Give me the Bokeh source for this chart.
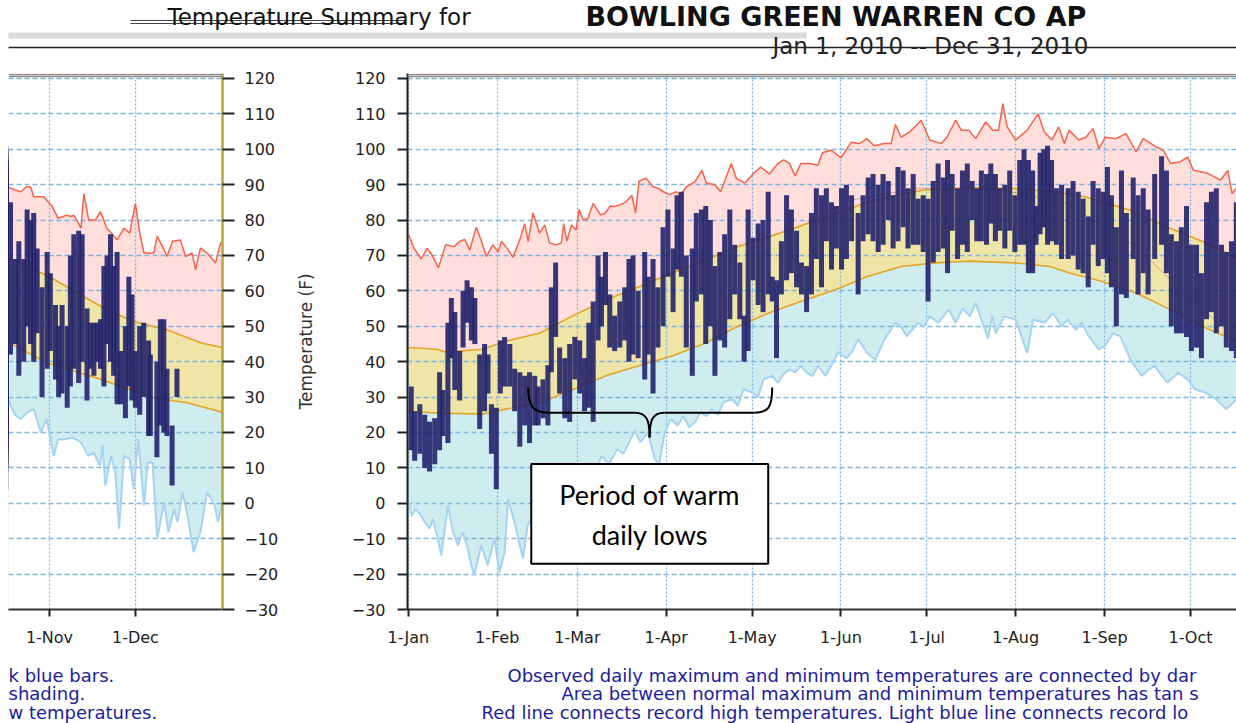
from bokeh.plotting import figure
from bokeh.layouts import column, row
from bokeh.models import Range1d, FixedTicker, Span
from bokeh.core.properties import value
from bokeh.embed import file_html
from bokeh.resources import INLINE

FONT = "DejaVu Sans"

# ---------------- data (day of year: 1-Jan = 0) ----------------
MONTH_TICK_DAYS = [0, 31, 59, 90, 120, 151, 181, 212, 243, 273, 304, 334]
MONTH_TICK_LABELS = ["1-Jan", "1-Feb", "1-Mar", "1-Apr", "1-May", "1-Jun",
                     "1-Jul", "1-Aug", "1-Sep", "1-Oct", "1-Nov", "1-Dec"]
TEMP_TICKS = [-30, -20, -10, 0, 10, 20, 30, 40, 50, 60, 70, 80, 90, 100, 110, 120]

RECORD_HIGH = [
    (0, 76), (2, 72), (4.5, 69), (6.5, 72), (8, 70.5), (10.5, 66.5), (13, 73), (16, 72.5), (18, 74),
    (19.7, 74.5), (21.4, 71.5), (23.7, 78), (25.5, 74), (27.2, 69.7), (29.5, 73), (31.3, 71), (32.5, 74),
    (34.5, 72), (36.5, 69.5), (38.9, 74.4), (40.6, 79), (41.8, 74), (43.5, 82), (45.8, 76.3), (47.6, 78.6),
    (49.3, 73.5), (51.5, 73), (53.4, 73.5), (54.2, 79), (55.3, 74), (56.9, 78.6), (58.6, 77.2), (59.6, 83),
    (61, 80), (62.7, 80.5), (64.5, 84.7), (67, 81.5), (68.5, 81.8), (70.5, 84), (72, 83.8), (75, 84.7),
    (76.5, 85.6), (78, 87), (79.3, 82), (80.5, 91), (83, 91.8), (85.4, 89.4), (87, 89), (89, 88),
    (91.2, 87.2), (93.5, 88), (95, 87), (97, 89.4), (100, 90.8), (102.5, 94), (104, 90.5), (107, 90),
    (109, 88), (112.7, 96), (114.5, 91.7), (117.5, 90.5), (120.5, 93.2), (123, 95), (126, 93), (129, 96),
    (131, 97), (133, 96), (135, 92.5), (137, 96), (140, 96), (143, 95.5), (144.5, 99), (147.6, 99.7),
    (151, 97.6), (154.6, 102), (157.5, 101.6), (160, 103), (162.6, 101), (166, 101.6), (168.5, 101.6),
    (170, 107), (172, 103.4), (175, 104.9), (179, 108.2), (182, 102.6), (186, 101.6), (188, 103.4),
    (191, 108.2), (193, 105.4), (195.6, 105.4), (198, 103), (201.5, 107.7), (204, 105.4), (206, 105.4),
    (207.5, 112.9), (209, 106.3), (212, 102.6), (216, 105.4), (219.8, 110), (222, 104.9), (224.6, 102.6),
    (227, 106.3), (229, 101.6), (230.6, 105.4), (234, 102.6), (236.5, 103.4), (239, 105.9), (241, 100.2),
    (243.3, 103.4), (247, 103), (250.5, 104.4), (254, 99.3), (256.5, 103), (261, 100.7), (263.5, 99.7),
    (266, 96), (269.5, 96.5), (272, 97.8), (274, 94.1), (279, 93.2), (283.5, 91.3), (286, 94), (287.5, 87.5),
    (289.3, 89.4), (290.5, 89), (292, 88.5), (294, 88), (296, 89.4), (297.4, 89.4), (298.5, 86.6),
    (302, 86.6), (305, 83.8), (307, 80.5), (310, 81.4), (311.6, 81), (312.5, 81.4), (315, 77.7), (316, 87.5),
    (317.7, 80), (320, 80), (321.8, 82.4), (324, 77.7), (326, 76), (327.6, 74.4), (330, 77.7), (332, 76.3),
    (334, 84.7), (335.5, 76.3), (337, 70.7), (340.4, 70.7), (341.6, 75.4), (344, 71.6), (345, 69.7),
    (347, 74), (349.7, 74.4), (351.5, 69.7), (353.8, 70.7), (355, 66), (356.7, 72.1), (359, 70.7),
    (362, 67.9), (363.7, 73.5), (365, 74),
]

RECORD_LOW = [
    (0, 0.3), (1.2, -3.5), (2.5, -1.6), (4, -3), (5.5, -5), (7.4, -7.2), (8.5, -4.4), (10, -9), (11.5, -14.7),
    (13.8, -0.6), (15.6, -8.1), (17.3, -11.9), (19, -8.1), (20.5, -12), (22, -17.5), (23, -20.3),
    (25.4, -11.9), (27.7, -17.5), (30, -10), (31.8, -19.4), (33.6, -13.8), (34.8, 1.2), (37, -5.3),
    (40, -15.6), (41.6, -6.3), (44, -3), (47, 0), (50, 2), (53, 0), (56, 5), (60, 4), (63, 9), (65, 8),
    (67.4, 13.4), (70, 11), (73, 15.3), (75, 14), (77, 17), (79, 20.5), (81, 17.3), (83.6, 20), (86, 12.5),
    (87.5, 11), (89.5, 20), (91.6, 23.8), (94, 22), (96, 24.6), (98, 21.5), (100, 22.9), (102, 25.7),
    (104, 24.6), (106, 26.6), (108, 25), (110, 28.5), (113, 29.5), (115, 27.5), (117, 32.2), (120, 31.3),
    (122, 30), (124, 35), (127, 36), (129, 34), (131, 36.5), (133, 37.8), (135, 37), (137, 38.8), (139, 37),
    (141, 35.9), (143, 38.8), (145.6, 36), (148, 39.5), (150, 42.6), (153, 41), (155, 43), (157, 46.3),
    (160, 42.6), (163, 40.5), (166, 46), (170, 51), (172, 49.8), (174, 47.2), (178, 51), (180, 50),
    (182, 52.8), (185, 51), (188.6, 54.7), (191, 51), (193.5, 55), (196, 52.8), (198, 56.6), (200.6, 50.5),
    (202.3, 46.5), (203.8, 53), (205, 48), (208, 52.8), (212, 51.9), (216, 42.5), (218, 51.9), (222, 51),
    (225, 53.7), (228, 50), (230, 51.9), (233, 49), (235, 51), (237.5, 47.2), (241, 43.5), (243, 44.4),
    (246, 48), (248.5, 47.2), (252, 40.6), (253.5, 38.8), (256, 36), (258, 37.5), (260.5, 38.8), (263, 36),
    (265, 34.1), (268.7, 36.9), (272, 35), (274.6, 32.2), (278, 31.3), (282, 29.4), (285.5, 26.6),
    (288, 28.5), (289.3, 30), (290.5, 27.5), (292, 25), (294, 23.8), (296.2, 25.6), (298.5, 26.6),
    (301, 20), (303, 23.8), (305.5, 13.4), (307, 18.1), (309, 18), (312, 18.6), (315, 17.2), (317.5, 13.4),
    (319.5, 14.3), (321.6, 10.6), (322.5, 16.3), (323.5, 5), (325.5, 13.4), (327, 8.8), (328.3, -7.2),
    (330, 13.4), (332, 12.5), (333.4, 4), (335, 18.1), (337, -0.6), (338.3, 11.5), (340, 11.5),
    (341.6, -10), (344, 0.3), (345.5, -8.1), (347.5, -1.6), (348.7, -5.3), (350.4, 3.1), (352, -2.5),
    (354.3, -13.8), (356.7, -8.1), (359, 3.1), (361.7, -0.6), (362.8, -5.3), (365, 2),
]

NORMAL_HIGH = [
    (0, 44), (10, 43.5), (13, 42.7), (26, 43.5), (34, 45.8), (46, 48.1), (57, 52.8), (69, 57.5), (81, 61.3),
    (92, 65), (104, 68.8), (115, 72.5), (126, 75.3), (137, 78.4), (150, 82), (160, 85), (170, 87),
    (180, 88.5), (195, 89.2), (210, 89), (225, 88), (236, 86.6), (245, 84.5), (253, 82.5), (265, 78),
    (277, 74), (289, 69.5), (304, 64), (322, 55.6), (333, 51.4), (345, 49), (357, 45.3), (365, 43.9),
]

NORMAL_LOW = [
    (0, 26), (10, 25.5), (26, 25.2), (34, 26.6), (46, 28.4), (57, 32), (69, 36), (81, 39), (92, 41.6),
    (103, 45), (115, 50), (126, 53.8), (137, 57), (149, 60.3), (160, 64), (172, 66.9), (184, 67.9),
    (195, 68.4), (212, 67.9), (224, 66.9), (231, 65), (242, 62.7), (254, 59.4), (266, 54.7), (277, 50),
    (289, 45.8), (303, 39.7), (322, 35), (340, 29.8), (352, 28.4), (365, 25.6),
]

SMOOTH_GUIDE = [
    (120, 74), (137, 78.2), (155, 85.7), (178, 89), (207, 88.5), (230, 84.7), (254, 72.5), (271, 59.4),
    (289, 46.3),
]

# observed daily (day, max, min)
OBSERVED = [
    (1.0, 33, 15), (2.2, 26, 12), (4.0, 28, 14), (5.7, 25, 10), (7.4, 23, 9), (9.2, 24, 11), (10.9, 37, 15),
    (12.1, 32, 19), (13.8, 51, 17), (15.0, 58, 41), (16.2, 54, 32), (17.9, 43, 29), (19.1, 60, 44),
    (20.5, 63, 51), (22.0, 61, 46), (23.2, 58, 45), (24.9, 42, 21), (26.6, 45, 26), (27.8, 42, 31),
    (29.0, 28, 14), (30.7, 27, 4), (32.1, 46, 31), (33.6, 47, 33), (35.4, 45, 33), (37.1, 38, 26),
    (38.9, 37, 16), (40.6, 36, 22), (42.3, 37, 17), (44.1, 36, 22), (45.3, 33, 22), (47.0, 35, 24),
    (48.7, 39, 22), (49.9, 61, 37), (51.4, 68, 47), (52.8, 44, 31), (54.6, 41, 24), (56.3, 45, 23),
    (58.1, 47, 35), (59.8, 46, 31), (61.5, 41, 26), (63.0, 51, 27), (64.5, 57, 23), (66.2, 70, 46),
    (67.4, 64, 50), (68.8, 71, 56), (70.3, 59, 44), (72.0, 53, 43), (73.8, 57, 44), (75.5, 61, 46),
    (77.0, 69, 40), (78.4, 70, 42), (80.2, 60, 41), (82.5, 71, 35), (83.7, 64, 42), (85.4, 69, 31),
    (87.1, 61, 44), (88.9, 78, 50), (90.6, 83, 64), (92.4, 72, 54), (93.8, 87, 66), (95.3, 88, 64),
    (97.0, 70, 44), (99.1, 72, 36), (100.5, 82, 57), (102.3, 83, 59), (103.8, 84, 45), (105.4, 80, 50),
    (107.0, 67, 36), (108.7, 71, 46), (110.4, 76, 44), (112.2, 83, 52), (113.9, 73, 59), (115.7, 68, 52),
    (117.2, 53, 40), (118.6, 83, 43), (120.3, 75, 63), (122.1, 79, 56), (123.8, 80, 54), (125.6, 88, 59),
    (127.0, 64, 57), (128.5, 63, 41), (130.2, 74, 59), (132.0, 87, 63), (133.7, 83, 65), (135.5, 77, 61),
    (137.2, 68, 59), (139.0, 67, 54), (140.7, 82, 59), (142.4, 89, 69), (144.2, 87, 61), (145.9, 89, 74),
    (147.7, 85, 66), (149.4, 84, 72), (151.2, 89, 66), (152.9, 90, 69), (154.7, 87, 74), (157.0, 82, 59),
    (158.7, 87, 74), (160.5, 92, 76), (162.2, 93, 74), (164.0, 90, 71), (165.7, 93, 73), (167.5, 91, 80),
    (169.2, 87, 72), (170.9, 95, 74), (172.7, 94, 78), (174.4, 89, 72), (176.2, 93, 73), (177.9, 86, 73),
    (179.7, 87, 71), (181.4, 86, 57), (183.2, 91, 68), (184.9, 96, 71), (186.7, 92, 72), (188.2, 97, 65),
    (189.8, 93, 77), (191.7, 89, 69), (193.4, 94, 73), (195.1, 96, 71), (196.8, 91, 80), (198.4, 89, 74),
    (200.0, 94, 74), (201.8, 93, 73), (203.3, 96, 79), (204.9, 93, 74), (206.4, 89, 77), (208.2, 90, 72),
    (209.9, 94, 77), (211.7, 87, 71), (213.4, 97, 73), (214.9, 100, 73), (216.4, 97, 65), (217.9, 94, 65),
    (219.1, 84, 73), (220.5, 99, 76), (221.8, 100, 78), (223.1, 101, 73), (224.5, 97, 74), (226.2, 89, 73),
    (228.0, 90, 69), (230.3, 89, 69), (232.0, 91, 70), (233.8, 88, 66), (235.5, 86, 65), (237.3, 81, 61),
    (239.0, 91, 73), (240.8, 89, 67), (242.5, 88, 69), (244.0, 95, 65), (245.4, 87, 61), (247.1, 78, 50),
    (248.9, 94, 59), (250.6, 82, 58), (253.0, 92, 69), (254.7, 87, 59), (256.5, 89, 65), (258.2, 83, 59),
    (260.5, 93, 69), (262.9, 98, 73), (264.6, 94, 65), (266.3, 76, 50), (268.1, 74, 48), (269.8, 78, 48),
    (271.6, 84, 47), (273.3, 73, 43), (275.1, 73, 44), (276.8, 65, 41), (278.6, 85, 52), (280.3, 88, 54),
    (282.0, 89, 48), (283.8, 73, 50), (285.5, 71, 44), (287.3, 74, 43), (289.0, 85, 41),
    (290.4, 85, 42), (292.1, 69, 45), (293.3, 74, 36), (295.0, 69, 40), (296.2, 83, 50), (297.4, 80, 45),
    (298.5, 82, 40), (299.7, 72, 48), (301.4, 61, 30), (303.2, 71, 38), (304.3, 65, 43), (306.1, 56, 35),
    (307.2, 50, 30), (308.4, 56, 31), (310.2, 50, 27), (311.3, 70, 33), (312.5, 76, 38), (314.2, 77, 34),
    (315.4, 76, 40), (317.1, 55, 29), (318.3, 51, 38), (319.5, 51, 36), (320.6, 51, 40), (321.8, 52, 38),
    (323.0, 67, 33), (324.1, 70, 45), (325.3, 76, 40), (326.4, 67, 36), (327.6, 71, 28), (328.8, 43, 28),
    (330.5, 50, 24), (331.7, 64, 33), (332.8, 59, 29), (334.0, 43, 27), (335.5, 50, 25), (336.9, 51, 30),
    (338.6, 46, 19), (339.2, 42, 19), (341.5, 40, 13), (342.7, 52, 22), (343.9, 52, 20), (345.0, 38, 19),
    (346.8, 22, 5), (348.5, 38, 30),
]

TITLE = "Temperature Summary for"
STATION = "BOWLING GREEN WARREN CO AP"
PERIOD = "Jan 1, 2010 -- Dec 31, 2010"
Y_LABEL = "Temperature (F)"
NOTE_LINES = ["Period of warm", "daily lows"]
FOOT_RIGHT = ["Observed daily maximum and minimum temperatures are connected by dar",
              "Area between normal maximum and minimum temperatures has tan s",
              "Red line connects record high temperatures. Light blue line connects record lo"]
FOOT_LEFT = ["k blue bars.", "shading.", "w temperatures."]

# ---------------- styling ----------------
PINK = "#FFDEDC"
TAN = "#EEE5A6"
CYAN = "#CFEDEE"
RED = "#F7634B"
ORANGE = "#E3A42B"
LBLUE = "#A6D4F0"
BAR = "#22226C"
GRID = "#80B6DE"
OLIVE = "#B5A53E"
NAVY_TEXT = "#1C1C9C"

PX_PER_DAY = 2.865
Y_LO, Y_HI = -30, 121.4
W = 1236


def unzip(pairs):
    return [p[0] for p in pairs], [p[1] for p in pairs]


rh_x, rh_y = unzip(RECORD_HIGH)
rl_x, rl_y = unzip(RECORD_LOW)
nh_x, nh_y = unzip(NORMAL_HIGH)
nl_x, nl_y = unzip(NORMAL_LOW)
sg_x, sg_y = unzip(SMOOTH_GUIDE)
ob_x = [o[0] for o in OBSERVED]
ob_hi = [o[1] for o in OBSERVED]
ob_lo = [o[2] for o in OBSERVED]


def style_axis(ax):
    ax.major_label_text_font = FONT
    ax.major_label_text_font_size = "16px"
    ax.major_label_text_color = "#222222"
    ax.axis_line_color = "#333333"
    ax.axis_line_width = 2
    ax.major_tick_line_color = "#222222"
    ax.major_tick_line_width = 2
    ax.major_tick_in = 0
    ax.minor_tick_in = 0
    ax.minor_tick_out = 0


def panel(x0, width, bl, br, yloc):
    frame_w = width - bl - br
    x1 = x0 + frame_w / PX_PER_DAY
    p = figure(width=width, height=579, x_range=Range1d(x0, x1), y_range=Range1d(Y_LO, Y_HI),
               output_backend="svg", toolbar_location=None, tools="", title=None,
               min_border_left=bl, min_border_right=br, min_border_top=3, min_border_bottom=38,
               y_axis_location=yloc, outline_line_color=None,
               background_fill_color="white", border_fill_color="white")
    base = Y_LO - 2
    p.varea(x=rh_x, y1=[base] * len(rh_x), y2=rh_y, fill_color=PINK, level="image")
    p.varea(x=nh_x, y1=[base] * len(nh_x), y2=nh_y, fill_color=TAN, level="image")
    p.varea(x=nl_x, y1=[base] * len(nl_x), y2=nl_y, fill_color=CYAN, level="image")
    p.varea(x=rl_x, y1=[base] * len(rl_x), y2=rl_y, fill_color="white", level="image")

    p.xgrid.ticker = FixedTicker(ticks=MONTH_TICK_DAYS)
    p.xgrid.grid_line_color = GRID
    p.xgrid.grid_line_dash = "2 2"
    p.xgrid.grid_line_width = 1.3
    p.ygrid.ticker = FixedTicker(ticks=TEMP_TICKS)
    p.ygrid.grid_line_color = GRID
    p.ygrid.grid_line_dash = "5 3"
    p.ygrid.grid_line_width = 1.3

    p.line(sg_x, sg_y, line_color="#3A2A10", line_alpha=0.28, line_width=1)
    p.line(nh_x, nh_y, line_color=ORANGE, line_width=1.6)
    p.line(nl_x, nl_y, line_color=ORANGE, line_width=1.6)
    p.line(rh_x, rh_y, line_color=RED, line_width=1.5)
    p.line(rl_x, rl_y, line_color=LBLUE, line_width=2)
    p.vbar(x=ob_x, width=1.75, top=ob_hi, bottom=ob_lo, fill_color=BAR, fill_alpha=0.9, line_color=None)

    for loc in (121.1, 120.55):
        p.add_layout(Span(location=loc, dimension="width", line_color="#8C8C8C", line_width=1.5))

    xa = p.xaxis[0]
    style_axis(xa)
    xa.ticker = FixedTicker(ticks=MONTH_TICK_DAYS)
    xa.major_label_overrides = dict(zip(MONTH_TICK_DAYS, MONTH_TICK_LABELS))
    xa.major_tick_out = 7
    xa.major_label_standoff = 11

    ya = p.yaxis[0]
    style_axis(ya)
    ya.ticker = FixedTicker(ticks=TEMP_TICKS)
    ya.major_tick_out = 10 if yloc == "left" else 12
    ya.major_label_standoff = 12 if yloc == "left" else 10
    return p


left = panel(289.7, 290, 8, 68, "right")
left.yaxis[0].axis_line_color = OLIVE
left.yaxis[0].axis_line_width = 2.5

right = panel(-0.3, 946, 117, 0, "left")
ya = right.yaxis[0]
ya.axis_label = Y_LABEL
ya.axis_label_text_font = FONT
ya.axis_label_text_font_size = "17px"
ya.axis_label_text_font_style = "normal"
ya.axis_label_text_color = "#333333"
ya.axis_label_standoff = 33
ya.axis_line_color = "#222222"

# annotation: brace + box (right panel)
BOX = dict(left=42.9, right=125.6, top=11.1, bottom=-17.05)
right.quad(fill_color="white", line_color="black", line_width=2, **BOX)
right.text(x=[84.3, 84.3], y=[2.6, -8.9], text=NOTE_LINES, text_font=value("Lato"),
           text_font_size="27px", text_align="center", text_baseline="middle", text_color="black")
BRACE_Y, TIP = 25.6, (84.2, 18.6)
right.bezier(x0=[41.8, 79.0, 84.2, 120.8], y0=[32.7, BRACE_Y, TIP[1], BRACE_Y],
             x1=[48.8, 84.2, 89.4, 127.0], y1=[BRACE_Y, TIP[1], BRACE_Y, 32.7],
             cx0=[41.8, 83.2, 84.2, 125.6], cy0=[27.0, BRACE_Y, 23.5, BRACE_Y],
             cx1=[44.0, 84.2, 85.2, 127.0], cy1=[BRACE_Y, 23.5, BRACE_Y, 27.0],
             line_color="black", line_width=2)
right.segment(x0=[48.8, 89.4], y0=[BRACE_Y, BRACE_Y], x1=[79.0, 120.8], y1=[BRACE_Y, BRACE_Y],
              line_color="black", line_width=2)

# ---------------- header (page pixel coordinates) ----------------
header = figure(width=W, height=70, x_range=Range1d(0, W), y_range=Range1d(70, 0),
                x_axis_type=None, y_axis_type=None, min_border=0, outline_line_color=None,
                toolbar_location=None, tools="", output_backend="svg", title=None)
header.quad(left=[8], right=[806], top=[32], bottom=[38], fill_color="#DADADA", line_color=None)
header.segment(x0=[130, 130], y0=[20, 23], x1=[405, 405], y1=[20, 23], line_color="#444444", line_width=1.2)
header.segment(x0=[8], y0=[47], x1=[W], y1=[47], line_color="#222222", line_width=1.5)
header.text(x=[167], y=[16], text=[TITLE], text_font=value(FONT), text_font_size="23px",
            text_baseline="middle", text_align="left", text_color="#111111")
header.text(x=[585], y=[16], text=[STATION], text_font=value(FONT), text_font_size="27px",
            text_font_style="bold", text_baseline="middle", text_align="left", text_color="#111111")
header.text(x=[930], y=[45], text=[PERIOD], text_font=value(FONT), text_font_size="23px",
            text_baseline="middle", text_align="center", text_color="#222222")

# ---------------- footer (page y - 649) ----------------
footer = figure(width=W, height=74, x_range=Range1d(0, W), y_range=Range1d(74, 0),
                x_axis_type=None, y_axis_type=None, min_border=0, outline_line_color=None,
                toolbar_location=None, tools="", output_backend="svg", title=None)
FOOT_Y = [26, 44, 63]
footer.text(x=[507, 561, 481], y=FOOT_Y, text=FOOT_RIGHT, text_font=value(FONT), text_font_size="18px",
            text_baseline="middle", text_align="left", text_color=NAVY_TEXT)
footer.text(x=[8, 8, 8], y=FOOT_Y, text=FOOT_LEFT, text_font=value(FONT), text_font_size="18px",
            text_baseline="middle", text_align="left", text_color=NAVY_TEXT)

layout = column(header, row(left, right), footer)
open("out.html", "w").write(file_html(layout, INLINE))
